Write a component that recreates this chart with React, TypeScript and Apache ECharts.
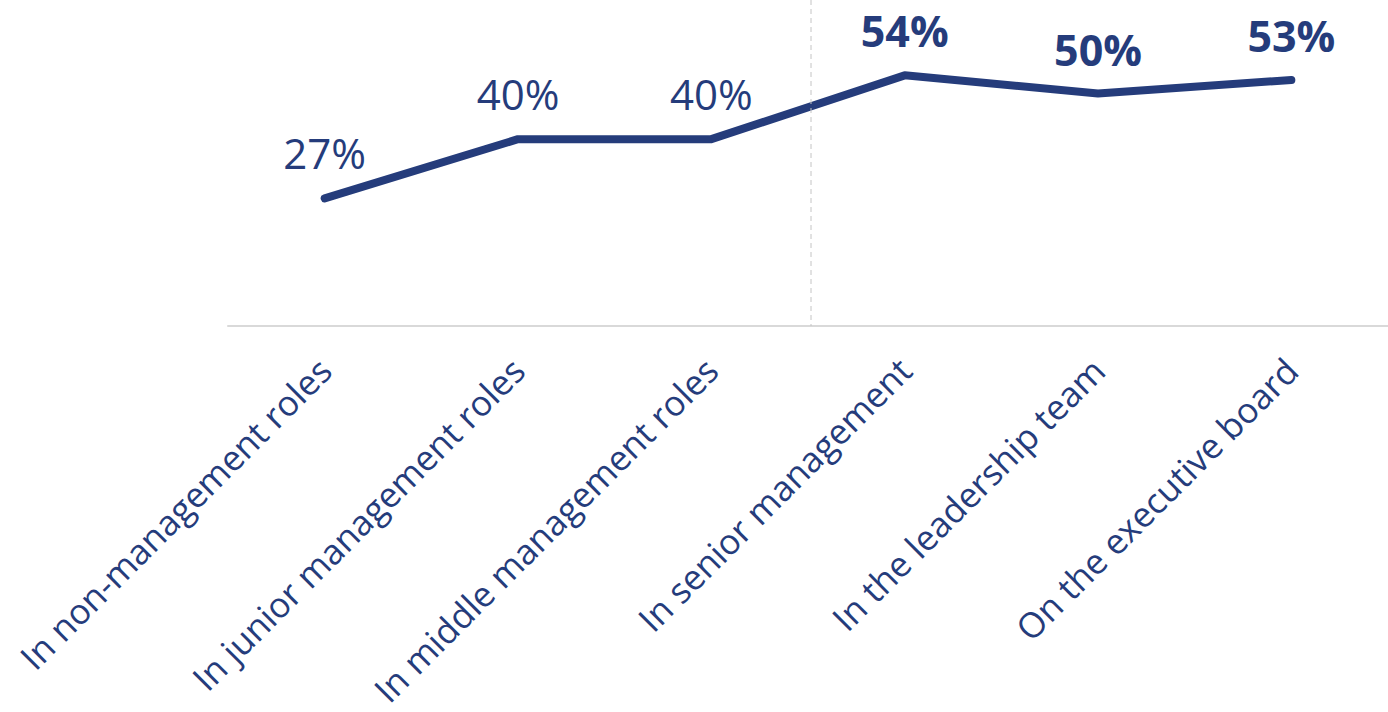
import React, { useEffect, useRef } from "react";
import * as echarts from "echarts";

const categories: string[] = [
  "In non-management roles",
  "In junior management roles",
  "In middle management roles",
  "In senior management",
  "In the leadership team",
  "On the executive board",
];
const values: number[] = [27, 40, 40, 54, 50, 53];
const boldLabel: boolean[] = [false, false, false, true, true, true];
const dividerBetween: [number, number] = [2, 3];

const NAVY = "#253C7B";
const FONT = "'Open Sans', 'Noto Sans', sans-serif";

export default function App() {
  const ref = useRef<HTMLDivElement>(null);
  useEffect(() => {
    if (!ref.current) return;
    const chart = echarts.init(ref.current, null, { renderer: "svg" });
    chart.setOption({
      animation: false,
      grid: { left: 228, right: -2, top: 48, height: 278, containLabel: false },
      xAxis: {
        type: "category",
        data: categories,
        boundaryGap: true,
        axisLine: { onZero: false, lineStyle: { color: "#D9D9D9", width: 2 } },
        axisTick: { show: false },
        splitLine: { show: false },
        axisLabel: {
          interval: 0,
          rotate: 45,
          align: "right",
          verticalAlign: "middle",
          margin: 38,
          color: NAVY,
          fontFamily: FONT,
          fontSize: 35,
          lineHeight: 30,
        },
      },
      yAxis: {
        type: "value",
        min: -1,
        max: 60,
        show: false,
        splitLine: { show: false },
      },
      series: [
        {
          type: "line",
          data: values.map((v, i) => ({
            value: v,
            label: boldLabel[i]
              ? { fontWeight: "bold", fontSize: 43, lineHeight: 40, distance: 24 }
              : { fontWeight: "normal", fontSize: 42, lineHeight: 40, distance: 25 },
          })),
          symbol: "circle",
          symbolSize: 1,
          showSymbol: true,
          itemStyle: { color: NAVY },
          lineStyle: { color: NAVY, width: 8, cap: "round", join: "round" },
          label: {
            show: true,
            position: "top",
            formatter: "{c}%",
            color: NAVY,
            fontFamily: FONT,
          },
          z: 3,
        },
      ],
    });
    const xa = chart.convertToPixel({ xAxisIndex: 0 }, categories[dividerBetween[0]]) as number;
    const xb = chart.convertToPixel({ xAxisIndex: 0 }, categories[dividerBetween[1]]) as number;
    const yBottom = chart.convertToPixel({ yAxisIndex: 0 }, -1) as number;
    const xm = (xa + xb) / 2 + 3;
    chart.setOption({
      graphic: [
        {
          type: "line",
          z: 10,
          shape: { x1: xm, y1: 0, x2: xm, y2: yBottom },
          style: { stroke: "#C4C4C4", lineWidth: 1, lineDash: [5, 4] },
        },
      ],
    });
    return () => chart.dispose();
  }, []);
  return (
    <div
      ref={ref}
      style={{ position: "fixed", left: 0, top: 0, width: 1388, height: 712, background: "#fff" }}
    />
  );
}
